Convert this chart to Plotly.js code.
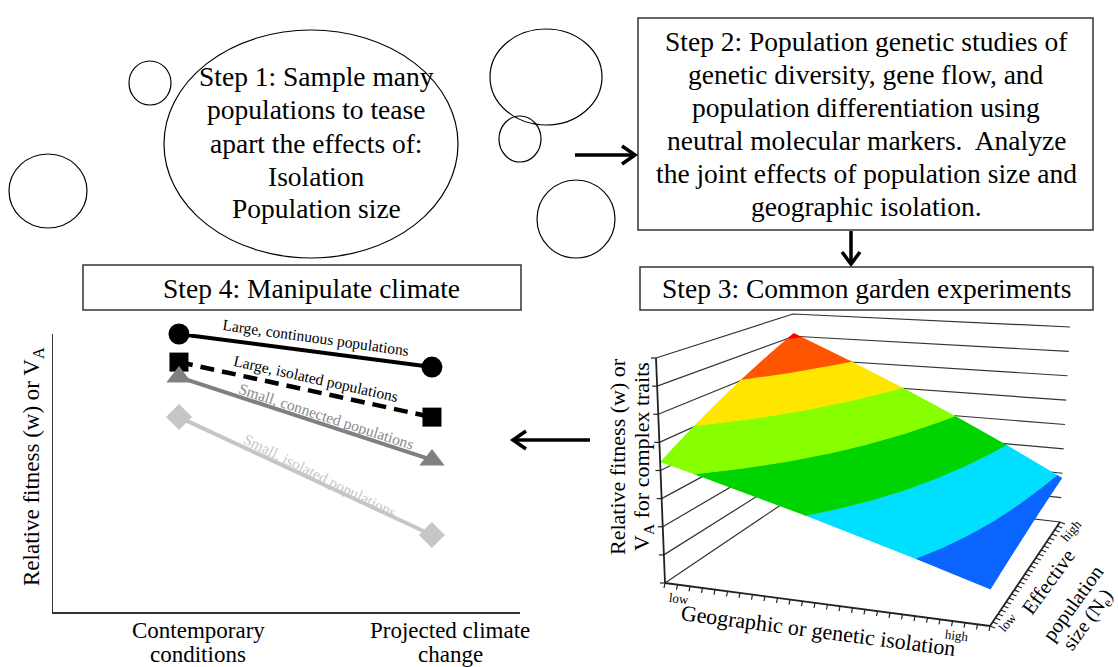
<!DOCTYPE html>
<html><head><meta charset="utf-8">
<script src="https://cdn.plot.ly/plotly-3.0.1.min.js"></script>
<style>html,body{margin:0;padding:0;background:#fff;}#chart{width:1118px;height:667px;}</style>
</head><body><div id="chart"></div>
<script>
// ---- Step 4: manipulate climate (line chart) ----
const climateConditions = [0, 1];
const climateLabels = ['Contemporary', 'conditions', 'Projected climate', 'change'];
const groupNames = ['Large, continuous populations', 'Large, isolated populations',
                    'Small, connected populations', 'Small, isolated populations'];
const largeContinuous = [10.0, 8.81];
const largeIsolated = [8.99, 7.01];
const smallConnected = [8.45, 5.47];
const smallIsolated = [7.01, 2.77];

// ---- Step 3: common garden surface (rows = Ne level, columns = isolation level) ----
const isolationLevels = [0, 0.25, 0.5, 0.75, 1];
const neLevels = [0, 0.25, 0.5, 0.75, 1];
const fitnessSurface = [
  [0.538, 0.441, 0.344, 0.247, 0.150],
  [0.627, 0.512, 0.398, 0.283, 0.169],
  [0.716, 0.584, 0.452, 0.320, 0.188],
  [0.804, 0.655, 0.506, 0.356, 0.207],
  [0.893, 0.726, 0.560, 0.393, 0.226]
];
const bandLevels = [0.24, 0.37, 0.50, 0.63, 0.755, 0.875];
const bandColors = ['#0a64ff', '#00dfff', '#00d400', '#88ff00', '#ffe600', '#ff5500', '#ff0000'];
const zGridLevels = [0, 0.125, 0.25, 0.375, 0.5, 0.625, 0.75, 0.875, 1];
const axisEndLabels = ['low', 'high'];

// ---- text ----
const step1Lines = ['Step 1: Sample many', 'populations to tease', 'apart the effects of:', 'Isolation', 'Population size'];
const step2Lines = ['Step 2: Population genetic studies of', 'genetic diversity, gene flow, and',
  'population differentiation using', 'neutral molecular markers.\u00a0 Analyze',
  'the joint effects of population size and', 'geographic isolation.'];

const W = 1118, H = 667;
const px = x => x / W, py = y => 1 - y / H;
const SERIF = 'Liberation Serif, Times New Roman, serif';

// ---- 3-D box placement on the page (pixel positions of the box corners) ----
const box = {
  b00: [665, 583], b10: [990, 626], b01: [800, 492], b11: [1060, 522],   // floor (iso, Ne)
  t00: [656, 358], t10: [994, 382], t01: [793, 314], t11: [1070, 327]    // top
};
function bil(a, b, c, d, u, v) {  // a=(0,0) b=(1,0) c=(0,1) d=(1,1)
  return [0, 1].map(k => (1 - u) * (1 - v) * a[k] + u * (1 - v) * b[k] + (1 - u) * v * c[k] + u * v * d[k]);
}
function proj(u, v, z) {
  const lo = bil(box.b00, box.b10, box.b01, box.b11, u, v);
  const hi = bil(box.t00, box.t10, box.t01, box.t11, u, v);
  return [lo[0] + z * (hi[0] - lo[0]), lo[1] + z * (hi[1] - lo[1])];
}
// surface value from the grid
function rowAt(v) {
  let i = 0;
  while (i < neLevels.length - 2 && v > neLevels[i + 1]) i++;
  const t = (v - neLevels[i]) / (neLevels[i + 1] - neLevels[i]);
  return fitnessSurface[i].map((z, j) => z + t * (fitnessSurface[i + 1][j] - z));
}
function zAt(u, v) {
  const r = rowAt(v);
  let j = 0;
  while (j < isolationLevels.length - 2 && u > isolationLevels[j + 1]) j++;
  const t = (u - isolationLevels[j]) / (isolationLevels[j + 1] - isolationLevels[j]);
  return r[j] + t * (r[j + 1] - r[j]);
}
function uAt(v, level) {
  if (level === Infinity) return 0;
  if (level === -Infinity) return 1;
  const r = rowAt(v);
  if (level >= r[0]) return 0;
  if (level <= r[r.length - 1]) return 1;
  for (let j = 0; j < r.length - 1; j++) {
    if (r[j] >= level && level >= r[j + 1]) {
      const t = (r[j] - level) / (r[j] - r[j + 1]);
      return isolationLevels[j] + t * (isolationLevels[j + 1] - isolationLevels[j]);
    }
  }
  return 1;
}

const traces = [];
const P2 = {xaxis: 'x2', yaxis: 'y2', hoverinfo: 'skip', showlegend: false};
const N = 90;

// wall grid lines (left wall iso=low, back wall Ne=high)
(function () {
  const xs = [], ys = [];
  zGridLevels.forEach(z => {
    [proj(0, 0, z), proj(0, 1, z), proj(1, 1, z)].forEach(p => { xs.push(p[0]); ys.push(p[1]); });
    xs.push(null); ys.push(null);
  });
  traces.push(Object.assign({x: xs, y: ys, mode: 'lines', line: {color: '#333', width: 1.2}}, P2));
})();

// coloured surface bands (exclusive regions lo <= z < hi)
bandColors.forEach((col, k) => {
  const lo = k === 0 ? -Infinity : bandLevels[k - 1];
  const hi = k === bandColors.length - 1 ? Infinity : bandLevels[k];
  const xs = [], ys = [];
  for (let s = 0; s <= N; s++) {
    const v = s / N, u = uAt(v, lo), p = proj(u, v, zAt(u, v));
    xs.push(p[0]); ys.push(p[1]);
  }
  for (let s = N; s >= 0; s--) {
    const v = s / N, u = uAt(v, hi), p = proj(u, v, zAt(u, v));
    xs.push(p[0]); ys.push(p[1]);
  }
  traces.push(Object.assign({x: xs, y: ys, mode: 'none', fill: 'toself', fillcolor: col}, P2));
});
// band boundaries drawn in the colour of the upper band to close anti-alias seams
bandLevels.forEach((lev, k) => {
  const xs = [], ys = [];
  for (let s = 0; s <= N; s++) {
    const v = s / N, u = uAt(v, lev);
    if (u <= 0 || u >= 1) { xs.push(null); ys.push(null); continue; }
    const p = proj(u, v, zAt(u, v));
    xs.push(p[0]); ys.push(p[1]);
  }
  traces.push(Object.assign({x: xs, y: ys, mode: 'lines', connectgaps: false,
    line: {color: bandColors[k + 1], width: 1.2}}, P2));
});

// axis lines and ticks of the 3-D box
(function () {
  const xs = [], ys = [];
  const seg = (a, b) => { xs.push(a[0], b[0], null); ys.push(a[1], b[1], null); };
  seg(proj(0, 0, 0), proj(1, 0, 0));
  seg(proj(1, 0, 0), proj(1, 1, 0));
  seg(proj(0, 0, 0), proj(0, 0, 1));
  traces.push(Object.assign({x: xs, y: ys, mode: 'lines', line: {color: '#222', width: 1.8}}, P2));
  const tx = [], ty = [];
  const tseg = (a, dx, dy) => { tx.push(a[0], a[0] + dx, null); ty.push(a[1], a[1] + dy, null); };
  for (let k = 0; k <= 26; k++) tseg(proj(k / 26, 0, 0), -1, 5);
  for (let k = 0; k <= 26; k++) tseg(proj(1, k / 26, 0), 5, 2);
  zGridLevels.forEach(z => tseg(proj(0, 0, z), -5, 0));
  traces.push(Object.assign({x: tx, y: ty, mode: 'lines', line: {color: '#222', width: 1.2}}, P2));
})();

// Step 4 line chart
traces.push(
  {x: climateConditions, y: largeContinuous, mode: 'lines+markers', cliponaxis: false, hoverinfo: 'skip',
   line: {color: '#000', width: 4}, marker: {symbol: 'circle', size: 21, color: '#000'}},
  {x: climateConditions, y: largeIsolated, mode: 'lines+markers', cliponaxis: false, hoverinfo: 'skip',
   line: {color: '#000', width: 4.5, dash: '14px,8px'}, marker: {symbol: 'square', size: 19, color: '#000'}},
  {x: climateConditions, y: smallConnected, mode: 'lines+markers', cliponaxis: false, hoverinfo: 'skip',
   line: {color: '#808080', width: 4}, marker: {symbol: 'triangle-up', size: 22, color: '#808080'}},
  {x: climateConditions, y: smallIsolated, mode: 'lines+markers', cliponaxis: false, hoverinfo: 'skip',
   line: {color: '#c6c6c6', width: 4}, marker: {symbol: 'diamond', size: 20, color: '#c6c6c6'}}
);

const ann = [];
const txt = (x, y, text, size, opts) => ann.push(Object.assign({
  xref: 'paper', yref: 'paper', x: px(x), y: py(y), text: text, showarrow: false,
  xanchor: 'center', yanchor: 'middle', font: {family: SERIF, size: size, color: '#000'}}, opts || {}));

step1Lines.forEach((t, i) => txt(316, 77 + i * 33, t, 27.5));
step2Lines.forEach((t, i) => txt(866, 41 + i * 33.2, t, 27.5));
txt(866, 289, 'Step 3: Common garden experiments', 27.5);
txt(311, 288, 'Step 4: Manipulate climate', 27.5);

// line-chart labels
txt(316, 337, groupNames[0], 15.5, {textangle: 8});
txt(316, 378, groupNames[1], 15.5, {textangle: 12.5});
txt(327, 416, groupNames[2], 15.5, {textangle: 18, font: {family: SERIF, size: 15.5, color: '#8a8a8a'}});
txt(320, 475, groupNames[3], 15.5, {textangle: 26.5, font: {family: SERIF, size: 15.5, color: '#c8c8c8'}});
txt(198, 630, climateLabels[0], 23);
txt(198, 654, climateLabels[1], 23);
txt(450, 630, climateLabels[2], 23);
txt(450, 654, climateLabels[3], 23);
txt(33, 467, 'Relative fitness (w) or V<sub>A</sub>', 23, {textangle: -90});

// 3-D labels
txt(617, 457, 'Relative fitness (w) or', 22, {textangle: -90});
txt(643, 457, 'V<sub>A</sub> for complex traits', 22, {textangle: -90});
txt(818, 630, 'Geographic or genetic isolation', 22, {textangle: 7.5});
txt(679, 598, axisEndLabels[0], 13, {textangle: 7});
txt(957, 635, axisEndLabels[1], 13, {textangle: 7});
txt(1007, 622, axisEndLabels[0], 13, {textangle: -50});
txt(1071, 530, axisEndLabels[1], 13, {textangle: -50});
txt(1048, 582, 'Effective', 20.5, {textangle: -54});
txt(1073, 603, 'population', 20.5, {textangle: -54});
txt(1088, 620, 'size (N<sub>e</sub>)', 20, {textangle: -54});

// shapes: circles, boxes, arrows
const shapes = [];
const ell = (cx, cy, rx, ry) => shapes.push({type: 'circle', xref: 'paper', yref: 'paper',
  x0: px(cx - rx), x1: px(cx + rx), y0: py(cy + ry), y1: py(cy - ry), line: {color: '#000', width: 1.2}});
ell(150, 83, 21, 22);
ell(311, 144, 147, 114);
ell(48, 191, 39, 37);
ell(546, 77, 56, 48);
ell(520, 139, 21, 23);
ell(576, 219, 39, 39);
const rect = (x0, y0, x1, y1) => shapes.push({type: 'rect', xref: 'paper', yref: 'paper',
  x0: px(x0), x1: px(x1), y0: py(y1), y1: py(y0), line: {color: '#333', width: 1.5}});
rect(638, 18, 1093, 230);
rect(640, 267, 1093, 310);
rect(83, 265, 521, 310);
const path = (pts) => shapes.push({type: 'path', xref: 'paper', yref: 'paper',
  path: pts.map((p, i) => (i ? 'L' : 'M') + px(p[0]) + ',' + py(p[1])).join(' '),
  line: {color: '#000', width: 3.5}});
path([[575, 155], [634, 155]]); path([[622, 146], [635, 155], [622, 164]]);
path([[851, 231], [851, 263]]); path([[842, 252], [851, 264], [860, 252]]);
path([[590, 440], [514, 440]]); path([[526, 431], [513, 440], [526, 449]]);

const hidden = {showline: false, showgrid: false, zeroline: false, ticks: '', showticklabels: false, fixedrange: true};
const layout = {
  width: W, height: H, margin: {l: 0, r: 0, t: 0, b: 0},
  paper_bgcolor: '#fff', plot_bgcolor: 'rgba(0,0,0,0)', showlegend: false,
  xaxis: {domain: [px(53), px(520)], range: [-0.498, 1.348], showline: true, linecolor: '#333', linewidth: 1.5,
          showgrid: false, zeroline: false, ticks: '', showticklabels: false, fixedrange: true},
  yaxis: {domain: [py(612), py(334)], range: [0, 10], showline: true, linecolor: '#333', linewidth: 1.5,
          showgrid: false, zeroline: false, ticks: '', showticklabels: false, fixedrange: true},
  xaxis2: Object.assign({domain: [0, 1], range: [0, W], anchor: 'y2'}, hidden),
  yaxis2: Object.assign({domain: [0, 1], range: [H, 0], anchor: 'x2'}, hidden),
  annotations: ann, shapes: shapes
};

Plotly.newPlot('chart', traces, layout, {displayModeBar: false, staticPlot: true});
</script></body></html>
